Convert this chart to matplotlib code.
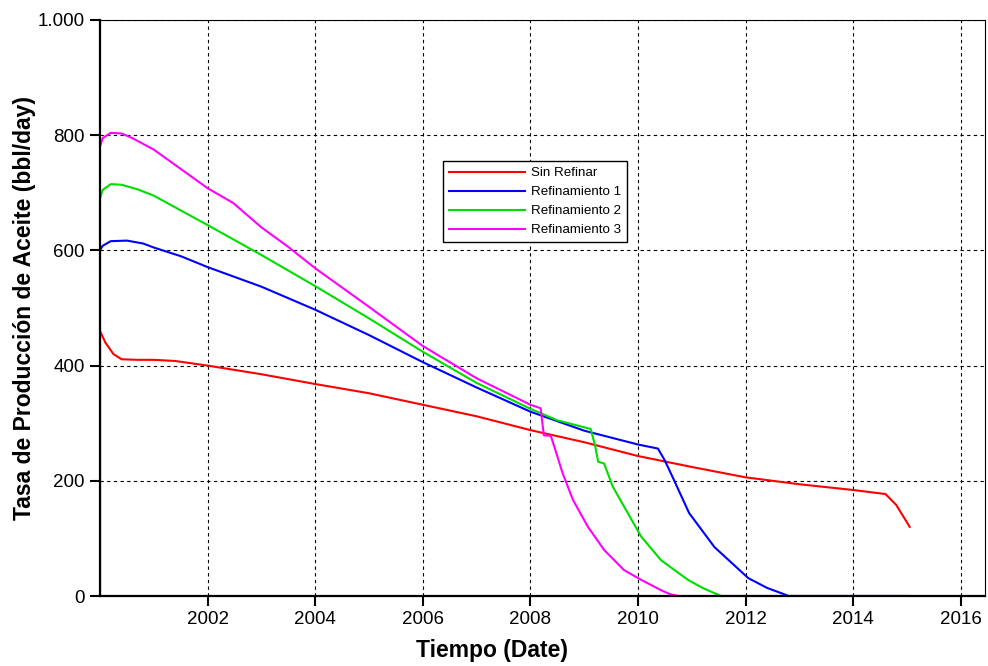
import matplotlib
matplotlib.use("Agg")
import matplotlib.pyplot as plt
from matplotlib.ticker import FuncFormatter

plt.rcParams['font.family'] = ['Liberation Sans', 'DejaVu Sans']

# Sin Refinar
red_t = [2000.0, 2000.0, 2000.1, 2000.25, 2000.4, 2000.7, 2001.0, 2001.4, 2002.0, 2003.0,
         2004.0, 2005.0, 2006.0, 2007.0, 2008.0, 2009.0, 2010.0, 2011.0, 2012.0, 2013.0,
         2014.0, 2014.6, 2014.8, 2015.05]
red_q = [0, 460, 440, 420, 411, 410, 410, 408, 400, 385,
         368, 352, 332, 312, 288, 267, 243, 224, 206, 194,
         184, 177, 158, 120]

# Refinamiento 1
blue_t = [2000.0, 2000.0, 2000.05, 2000.2, 2000.5, 2000.8, 2001.0, 2001.5, 2002.0, 2003.0,
          2004.0, 2005.0, 2006.0, 2007.0, 2008.0, 2009.0, 2010.0, 2010.37, 2010.5, 2010.67,
          2010.95, 2011.42, 2012.05, 2012.4, 2012.66, 2012.8, 2015.05]
blue_q = [0, 600, 608, 616, 617, 612, 605, 590, 571, 537,
          497, 453, 406, 362, 320, 287, 263, 256, 235, 201,
          144, 85, 31, 14, 5, 0, 0]

# Refinamiento 2
green_t = [2000.0, 2000.0, 2000.05, 2000.2, 2000.4, 2000.7, 2001.0, 2002.0, 2003.0, 2004.0,
           2005.0, 2006.0, 2007.0, 2008.0, 2008.5, 2009.12, 2009.2, 2009.26, 2009.37, 2009.53,
           2009.81, 2010.06, 2010.43, 2010.93, 2011.2, 2011.42, 2011.55, 2015.05]
green_q = [0, 690, 705, 715, 714, 706, 695, 644, 592, 538,
           482, 424, 370, 325, 305, 290, 262, 233, 230, 190,
           144, 103, 62, 28, 14, 5, 0, 0]

# Refinamiento 3
mag_t = [2000.0, 2000.0, 2000.05, 2000.2, 2000.4, 2000.6, 2001.0, 2002.0, 2002.48, 2003.0,
         2003.5, 2004.0, 2005.0, 2006.0, 2007.0, 2008.0, 2008.19, 2008.25, 2008.38, 2008.6,
         2008.79, 2009.07, 2009.37, 2009.74, 2010.06, 2010.43, 2010.6, 2010.75, 2015.05]
mag_q = [0, 780, 795, 804, 803, 795, 775, 708, 682, 640,
         606, 569, 502, 434, 378, 332, 326, 279, 278, 213,
         167, 120, 80, 45, 28, 10, 3, 0, 0]

x_ticks = [2002, 2004, 2006, 2008, 2010, 2012, 2014, 2016]
y_ticks = [0, 200, 400, 600, 800, 1000]

fig = plt.figure(figsize=(9.88, 6.66), dpi=100)
ax = fig.add_axes([0.1012, 0.1051, 0.8958, 0.8649])

ax.plot(red_t, red_q, color='#ff0000', lw=1.5, label='Sin Refinar')
ax.plot(blue_t, blue_q, color='#0000ff', lw=1.5, label='Refinamiento 1')
ax.plot(green_t, green_q, color='#00dd00', lw=1.5, label='Refinamiento 2')
ax.plot(mag_t, mag_q, color='#ff00ff', lw=1.5, label='Refinamiento 3')

ax.set_xlim(2000.0, 2016.45)
ax.set_ylim(0, 1000)
ax.set_xticks(x_ticks)
ax.set_yticks(y_ticks)
ax.yaxis.set_major_formatter(FuncFormatter(lambda v, p: '1.000' if v >= 1000 else f'{int(v)}'))

ax.grid(True, color='black', linestyle=(0, (3, 3)), linewidth=0.8)
ax.tick_params(axis='both', direction='out', length=7, width=1.5, labelsize=13.5, pad=4)

for side in ['left', 'bottom']:
    ax.spines[side].set_linewidth(1.6)
for side in ['top', 'right']:
    ax.spines[side].set_linewidth(0.8)

ax.set_xlabel('Tiempo (Date)', fontsize=16.5, fontweight='bold')
ax.xaxis.set_label_coords(0.443, -0.074)
ax.set_ylabel('Tasa de Producción de Aceite (bbl/day)', fontsize=16.5, fontweight='bold', labelpad=1)

leg = ax.legend(loc='upper left', bbox_to_anchor=(0.3876, 0.7552), borderaxespad=0, fontsize=9.6,
                frameon=True, fancybox=False, edgecolor='black', framealpha=1,
                handlelength=5.7, labelspacing=0.5, borderpad=0.45, handletextpad=0.45)
leg.get_frame().set_linewidth(1.0)

fig.savefig('out.png', dpi=100)
